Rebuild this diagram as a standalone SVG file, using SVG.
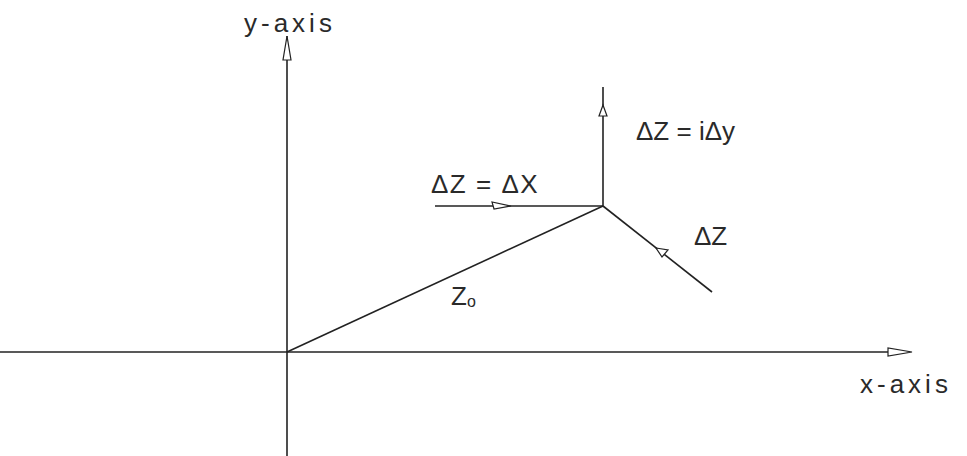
<svg xmlns="http://www.w3.org/2000/svg" width="967" height="456" viewBox="0 0 967 456">
<style>
.ln{stroke:#222;stroke-width:1.6;fill:none}
.ah{stroke:#222;stroke-width:1.2;fill:#fff}
text{font-family:"Liberation Sans","DejaVu Sans",sans-serif;font-size:26px;fill:#2a2a2a;font-weight:normal}
.ax{letter-spacing:4px}
</style>
<rect width="967" height="456" fill="#fff"/>
<g id="connectors">
<line class="ln" x1="287" y1="456" x2="287" y2="36"/>
<polygon class="ah" points="287,36 283,60 291,60"/>
<line class="ln" x1="0" y1="352" x2="910" y2="352"/>
<polygon class="ah" points="912,352 888,348 888,356"/>
<line class="ln" x1="287" y1="352" x2="603" y2="206"/>
<line class="ln" x1="603" y1="206" x2="603" y2="87"/>
<polygon class="ah" points="603,105 599,116 607,116"/>
<line class="ln" x1="435" y1="206" x2="603" y2="206"/>
<polygon class="ah" points="511,206 492,202 494,209"/>
<line class="ln" x1="603" y1="206" x2="712" y2="292"/>
<polygon class="ah" points="656,248 668,250 662,257"/>
</g>
<g id="y-axis-label"><text class="ax" x="244" y="32">y-axis</text></g>
<g id="x-axis-label"><text class="ax" x="860" y="393">x-axis</text></g>
<g id="label-iDy"><text x="636" y="140">ΔZ = iΔy</text></g>
<g id="label-Dx"><text x="431" y="193" letter-spacing="1.5">ΔZ = ΔX</text></g>
<g id="label-Dz"><text x="694" y="245">ΔZ</text></g>
<g id="label-z0"><text x="451" y="305">Z<tspan font-size="16" dy="2">o</tspan></text></g>
</svg>
